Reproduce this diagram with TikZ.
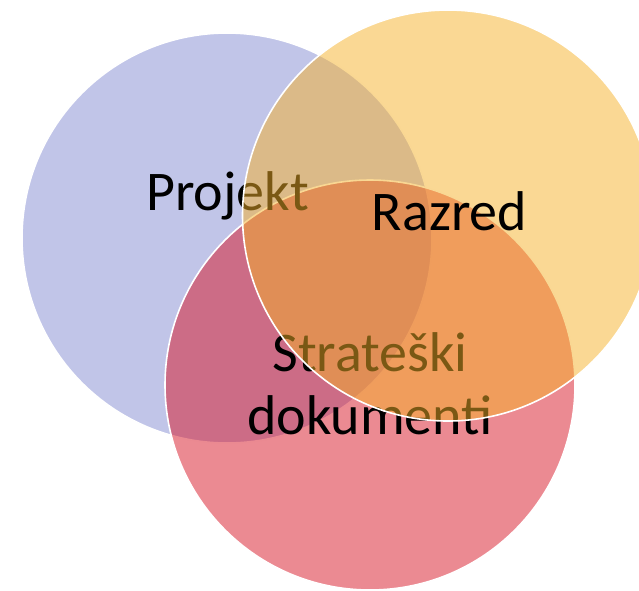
\documentclass[tikz,border=0pt]{standalone}
\usepackage{fontspec}
\setmainfont{Carlito}
\definecolor{vblue}{RGB}{131,139,209}
\definecolor{vorange}{RGB}{245,177,41}
\definecolor{vred}{RGB}{215,21,37}
\begin{document}
\begin{tikzpicture}[x=1pt,y=-1pt,
  venn/.style={fill opacity=0.5, draw=white, line width=1.6pt},
  lbl/.style={text=black, font=\fontsize{56}{64}\selectfont, inner sep=0pt, anchor=base}]
\useasboundingbox (0,0) rectangle (639,590);
\clip (0,0) rectangle (639,590);
\path[venn, fill=vblue] (227,238) circle[radius=205pt];
\path[venn, fill=vred] (370,385) circle[radius=205pt];
\node[lbl] (projekt) at (227.5,210) {Projekt};
\node[lbl] (strat1) at (370,371) {Strateški};
\node[lbl] (strat2) at (370,434.5) {dokumenti};
\path[venn, fill=vorange] (448,215.5) circle[radius=205.5pt];
\node[lbl] (razred) at (449.5,230) {Razred};
\end{tikzpicture}
\end{document}
